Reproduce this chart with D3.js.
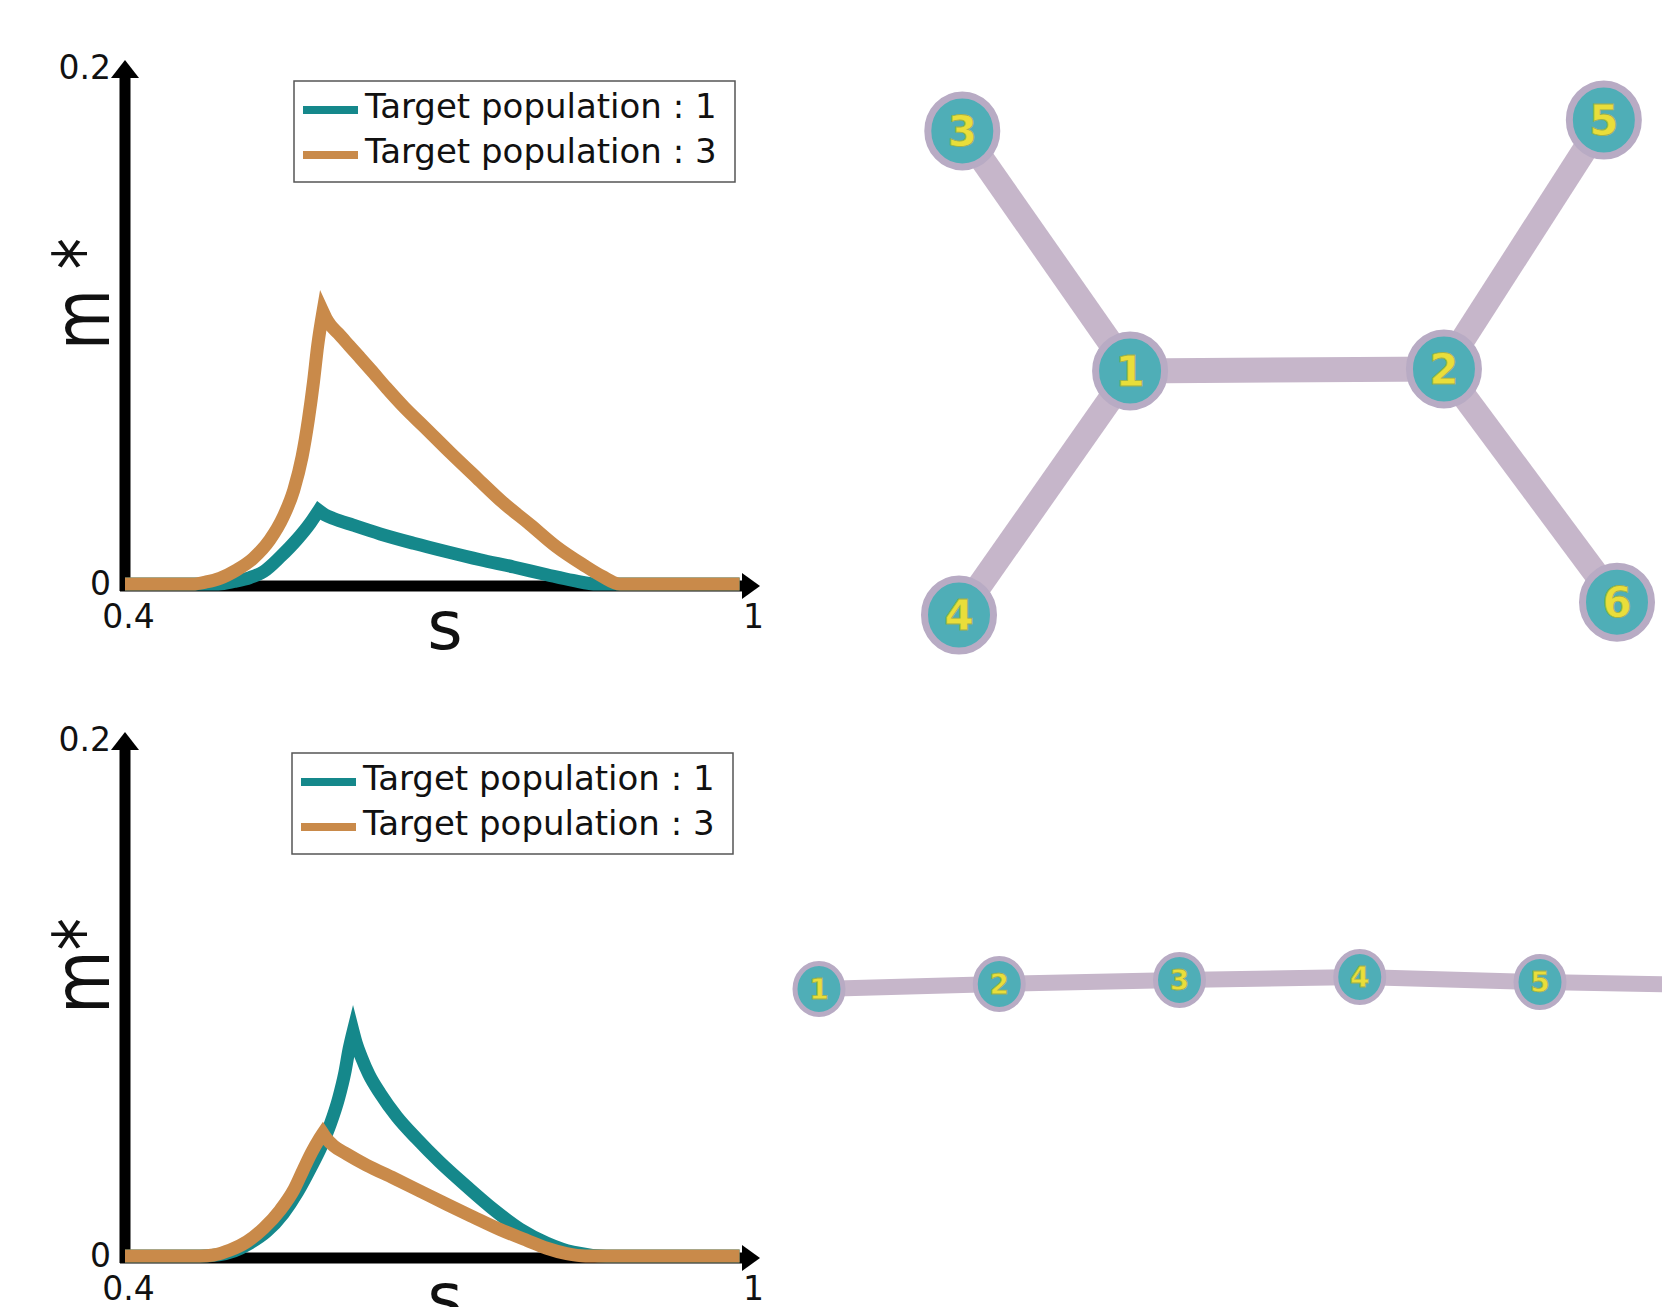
<!DOCTYPE html>
<html>
<head>
<meta charset="utf-8">
<script src="https://cdn.jsdelivr.net/npm/d3@7"></script>
<style>
  body { margin: 0; background: #fff; }
  svg { display: block; }
  text { font-family: "DejaVu Sans", Verdana, sans-serif; }
</style>
</head>
<body>
<div class="chart"></div>
<script>
// ---- data ----
var legendLabels = ["Target population : 1", "Target population : 3"];
var xTicks = [0.4, 1];
var yTicks = [0, 0.2];

// top panel, target population 1 (teal)
var sTopPop1 = [0.40, 0.49, 0.505, 0.52, 0.533, 0.549, 0.565, 0.578, 0.586, 0.592, 0.600, 0.619, 0.645, 0.677, 0.709, 0.741, 0.773, 0.805, 0.830, 0.853, 0.99];
var mTopPop1 = [0, 0, 0.001, 0.0025, 0.0048, 0.0105, 0.0172, 0.0237, 0.0285, 0.0268, 0.0254, 0.0228, 0.0194, 0.0158, 0.0125, 0.0094, 0.0066, 0.0036, 0.0014, 0, 0];
// top panel, target population 3 (orange)
var sTopPop3 = [0.40, 0.465, 0.478, 0.491, 0.507, 0.523, 0.539, 0.552, 0.562, 0.570, 0.576, 0.581, 0.585, 0.590, 0.593, 0.597, 0.605, 0.615, 0.625, 0.636, 0.651, 0.668, 0.687, 0.712, 0.738, 0.763, 0.789, 0.814, 0.840, 0.858, 0.875, 0.99];
var mTopPop3 = [0, 0, 0.0008, 0.0022, 0.0054, 0.0099, 0.0171, 0.0261, 0.0364, 0.0493, 0.0636, 0.0785, 0.0925, 0.1055, 0.1030, 0.1005, 0.0970, 0.0925, 0.0880, 0.0830, 0.0760, 0.0685, 0.0610, 0.0510, 0.0410, 0.0315, 0.0230, 0.0145, 0.0074, 0.0030, 0, 0];

// bottom panel, target population 1 (teal)
var sBotPop1 = [0.40, 0.472, 0.49, 0.505, 0.52, 0.536, 0.552, 0.566, 0.578, 0.589, 0.597, 0.605, 0.611, 0.615, 0.619, 0.622, 0.627, 0.634, 0.645, 0.661, 0.680, 0.702, 0.728, 0.754, 0.779, 0.805, 0.830, 0.862, 0.99];
var mBotPop1 = [0, 0, 0.0005, 0.002, 0.005, 0.0095, 0.0165, 0.025, 0.034, 0.043, 0.051, 0.061, 0.071, 0.080, 0.087, 0.0825, 0.0770, 0.0705, 0.0630, 0.0540, 0.0455, 0.0365, 0.0270, 0.0180, 0.0105, 0.0050, 0.0015, 0, 0];
// bottom panel, target population 3 (orange)
var sBotPop3 = [0.40, 0.472, 0.485, 0.501, 0.517, 0.533, 0.549, 0.562, 0.571, 0.579, 0.586, 0.590, 0.594, 0.600, 0.613, 0.632, 0.658, 0.683, 0.709, 0.734, 0.760, 0.786, 0.805, 0.824, 0.842, 0.99];
var mBotPop3 = [0, 0, 0.0004, 0.0023, 0.0055, 0.0107, 0.0178, 0.0256, 0.0333, 0.0400, 0.0450, 0.0475, 0.0452, 0.0428, 0.0395, 0.0352, 0.0302, 0.0252, 0.0200, 0.0152, 0.0103, 0.0060, 0.0030, 0.0009, 0, 0];

// network diagrams (layout units)
var treeNodes = [1, 2, 3, 4, 5, 6];
var treeX = [0.260, 0.737, 0.005, 0, 0.980, 1];
var treeY = [0.507, 0.503, 0.022, 1, 0, 0.974];
var treeEdges = [[1, 3], [1, 4], [1, 2], [2, 5], [2, 6]];

var chainNodes = [1, 2, 3, 4, 5, 6];
var chainX = [0, 1, 2, 3, 4, 5];
var chainY = [1, 0.58, 0.25, 0, 0.42, 0.7];
var chainEdges = [[1, 2], [2, 3], [3, 4], [4, 5], [5, 6]];

var teal = "#15888b";
var orange = "#c98a4a";
var W = 1662, H = 1307;

var svg = d3.select(".chart").append("svg")
  .attr("width", W)
  .attr("height", H);

// scales shared by both curve panels
var x = d3.scaleLinear().domain([0.4, 1]).range([125, 750]);
var y = d3.scaleLinear().domain([0, 0.2]).range([584, 68]);

// builds one path with a sharp corner at the peak
function peakPath(sArr, mArr) {
  var pts = sArr.map(function(s, i) { return [x(s), y(mArr[i])]; });
  var k = d3.maxIndex(mArr);
  var line = d3.line().curve(d3.curveMonotoneX);
  var up = line(pts.slice(0, k + 1));
  var down = line(pts.slice(k));
  return up + down.replace(/^M[^CL]*/, "");
}

function drawPanel(dy, legendDx, series, ylabel, ylabelLen) {
  var g = svg.append("g").attr("transform", "translate(0," + dy + ")");

  // axis lines with arrow heads
  var x0 = x.range()[0], x1 = x.range()[1];
  var y0 = y(0) + 2, y1 = y.range()[1];
  g.append("line").attr("x1", x0 - 5).attr("x2", x1 - 6).attr("y1", y0).attr("y2", y0)
    .attr("stroke", "#000").attr("stroke-width", 11);
  g.append("path")
    .attr("d", "M" + (x1 + 10) + "," + y0 + "L" + (x1 - 8) + "," + (y0 - 13) + "L" + (x1 - 8) + "," + (y0 + 13) + "Z")
    .attr("fill", "#000");
  g.append("line").attr("x1", x0).attr("x2", x0).attr("y1", y0 + 5).attr("y2", y1 + 6)
    .attr("stroke", "#000").attr("stroke-width", 11);
  g.append("path")
    .attr("d", "M" + x0 + "," + (y1 - 8) + "L" + (x0 - 14) + "," + (y1 + 10) + "L" + (x0 + 14) + "," + (y1 + 10) + "Z")
    .attr("fill", "#000");

  // tick labels via d3 axes
  var xAxis = g.append("g")
    .attr("transform", "translate(0," + y0 + ")")
    .call(d3.axisBottom(x).tickValues(xTicks).tickSize(0).tickFormat(d3.format("")));
  xAxis.select(".domain").remove();
  xAxis.selectAll("text")
    .attr("y", 42).attr("dy", 0).attr("dx", 3)
    .attr("font-size", 33).attr("fill", "#111")
    .style("font-family", "DejaVu Sans");

  var yAxis = g.append("g")
    .attr("transform", "translate(" + x0 + ",0)")
    .call(d3.axisLeft(y).tickValues(yTicks).tickSize(0).tickPadding(14).tickFormat(d3.format("")));
  yAxis.select(".domain").remove();
  yAxis.selectAll("text")
    .attr("font-size", 33).attr("fill", "#111")
    .style("font-family", "DejaVu Sans");

  // curves
  series.forEach(function(d) {
    g.append("path")
      .attr("d", peakPath(d.s, d.m))
      .attr("fill", "none")
      .attr("stroke", d.color)
      .attr("stroke-width", 13)
      .attr("stroke-linejoin", "miter")
      .attr("stroke-miterlimit", 12);
  });

  // axis titles
  g.append("text")
    .attr("x", 445).attr("y", y0 + 63)
    .attr("text-anchor", "middle")
    .attr("font-size", 68).attr("fill", "#111")
    .text("s");

  g.append("text")
    .attr("transform", "translate(109,294) rotate(-90)")
    .attr("text-anchor", "middle")
    .attr("font-size", 78).attr("fill", "#111")
    .attr("textLength", ylabelLen).attr("lengthAdjust", "spacingAndGlyphs")
    .text(ylabel);

  // legend
  var lg = g.append("g").attr("transform", "translate(" + (294 + legendDx) + ",81)");
  lg.append("rect").attr("width", 441).attr("height", 101)
    .attr("fill", "#fff").attr("stroke", "#555").attr("stroke-width", 1.5);
  series.forEach(function(d, i) {
    lg.append("line").attr("x1", 9).attr("x2", 64)
      .attr("y1", 29 + i * 45).attr("y2", 29 + i * 45)
      .attr("stroke", d.color).attr("stroke-width", 8);
    lg.append("text").attr("x", 71).attr("y", 37 + i * 45)
      .attr("font-size", 34).attr("fill", "#111")
      .text(legendLabels[i]);
  });
}

drawPanel(0, 0, [
  { s: sTopPop1, m: mTopPop1, color: teal },
  { s: sTopPop3, m: mTopPop3, color: orange }
], "m *", 112);

drawPanel(672, -2, [
  { s: sBotPop1, m: mBotPop1, color: teal },
  { s: sBotPop3, m: mBotPop3, color: orange }
], "m*", 96);

// networks
function drawNetwork(ids, xs, ys, edges, sx, sy, opt) {
  var pos = {};
  ids.forEach(function(id, i) { pos[id] = [sx(xs[i]), sy(ys[i])]; });
  var g = svg.append("g");
  g.selectAll("line").data(edges).enter().append("line")
    .attr("x1", function(e) { return pos[e[0]][0]; })
    .attr("y1", function(e) { return pos[e[0]][1]; })
    .attr("x2", function(e) { return pos[e[1]][0]; })
    .attr("y2", function(e) { return pos[e[1]][1]; })
    .attr("stroke", "#c6b6ca")
    .attr("stroke-width", opt.edge);
  // nodes that fall outside the picture are not drawn (only their edge shows)
  var visible = ids.filter(function(id) { return pos[id][0] - opt.r < W; });
  var node = g.selectAll("g.node").data(visible).enter().append("g")
    .attr("class", "node")
    .attr("transform", function(id) { return "translate(" + pos[id][0] + "," + pos[id][1] + ")"; });
  node.append("ellipse")
    .attr("rx", opt.r)
    .attr("ry", opt.r + 1.5)
    .attr("fill", "#4faeb7")
    .attr("stroke", "#b8abc4")
    .attr("stroke-width", opt.ring);
  node.append("text")
    .attr("text-anchor", "middle")
    .attr("dy", "0.36em")
    .attr("font-size", opt.font)
    .attr("font-weight", "bold")
    .attr("fill", "#e9de3a")
    .attr("stroke", "#9fb04a")
    .attr("stroke-width", 0.8)
    .text(function(id) { return id; });
}

drawNetwork(treeNodes, treeX, treeY, treeEdges,
  d3.scaleLinear().domain([0, 1]).range([959, 1617]),
  d3.scaleLinear().domain([0, 1]).range([120, 615]),
  { r: 34.5, ring: 7, edge: 25, font: 42 });

drawNetwork(chainNodes, chainX, chainY, chainEdges,
  d3.scaleLinear().domain([0, 4]).range([819, 1540]),
  d3.scaleLinear().domain([0, 1]).range([977, 989]),
  { r: 24, ring: 5, edge: 16, font: 28 });
</script>
</body>
</html>
